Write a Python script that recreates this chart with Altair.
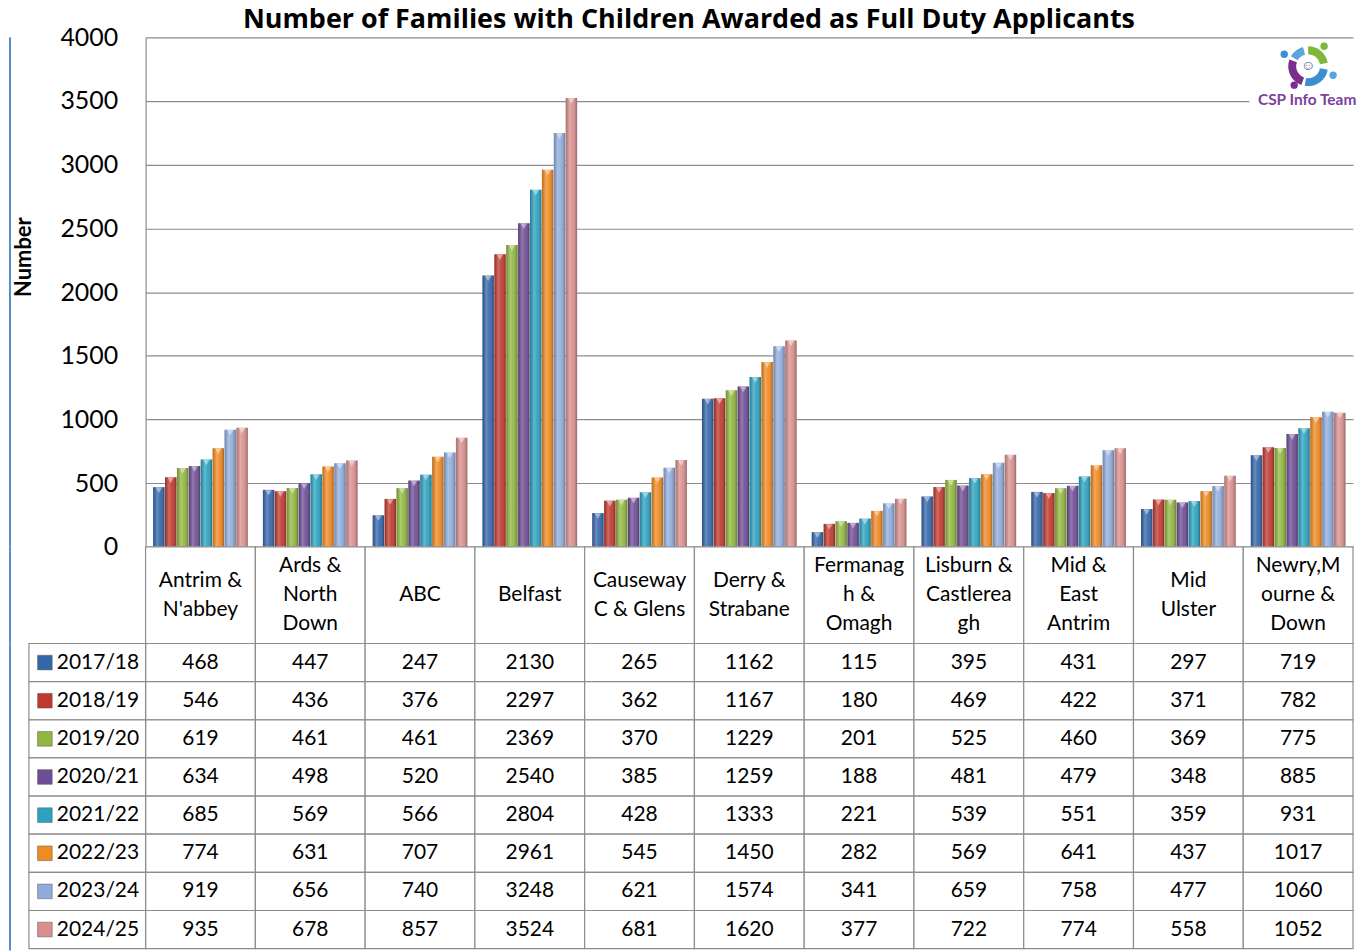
import altair as alt
import pandas as pd

# ---------------- data ----------------
categories = ["Antrim & N'abbey", "Ards & North Down", "ABC", "Belfast",
              "Causeway C & Glens", "Derry & Strabane", "Fermanagh & Omagh",
              "Lisburn & Castlereagh", "Mid & East Antrim", "Mid Ulster",
              "Newry,Mourne & Down"]
header_lines = [["Antrim &", "N'abbey"], ["Ards &", "North", "Down"], ["ABC"], ["Belfast"],
                ["Causeway", "C & Glens"], ["Derry &", "Strabane"], ["Fermanag", "h &", "Omagh"],
                ["Lisburn &", "Castlerea", "gh"], ["Mid &", "East", "Antrim"], ["Mid", "Ulster"],
                ["Newry,M", "ourne &", "Down"]]
series = ["2017/18", "2018/19", "2019/20", "2020/21",
          "2021/22", "2022/23", "2023/24", "2024/25"]

v2017_18 = [468, 447, 247, 2130, 265, 1162, 115, 395, 431, 297, 719]
v2018_19 = [546, 436, 376, 2297, 362, 1167, 180, 469, 422, 371, 782]
v2019_20 = [619, 461, 461, 2369, 370, 1229, 201, 525, 460, 369, 775]
v2020_21 = [634, 498, 520, 2540, 385, 1259, 188, 481, 479, 348, 885]
v2021_22 = [685, 569, 566, 2804, 428, 1333, 221, 539, 551, 359, 931]
v2022_23 = [774, 631, 707, 2961, 545, 1450, 282, 569, 641, 437, 1017]
v2023_24 = [919, 656, 740, 3248, 621, 1574, 341, 659, 758, 477, 1060]
v2024_25 = [935, 678, 857, 3524, 681, 1620, 377, 722, 774, 558, 1052]
values = [v2017_18, v2018_19, v2019_20, v2020_21, v2021_22, v2022_23, v2023_24, v2024_25]

colors = ["#3466AA", "#C0392F", "#92B73F", "#6F4D95", "#2CA2BF",
          "#F08A22", "#90ACDC", "#D88F8E"]

y_ticks = list(range(0, 4001, 500))

title_text = "Number of Families with Children Awarded as Full Duty Applicants"
y_title = "Number"
logo_text = "CSP Info Team"

# ---------------- tables ----------------
rows = []
for s, vals in zip(series, values):
    for c, v in zip(categories, vals):
        rows.append({"cat": c, "series": s, "value": v})
df = pd.DataFrame(rows)

hrows = []
for c, lines in zip(categories, header_lines):
    n = len(lines)
    for i, t in enumerate(lines):
        hrows.append({"cat": c, "line": t, "pos": i - (n - 1) / 2})
hdr = pd.DataFrame(hrows)
cats_df = pd.DataFrame({"cat": categories})
leg = pd.DataFrame({"series": series})
one = pd.DataFrame({"k": [0]})

FONT = "Lato"
GRID = "#8C8C8C"
BORDER = "#5B8BD0"
W = 1211
H_BARS = 511
H_HDR = 97
H_TAB = 306
LINE_H = 29
BORDER_X = -136
DEG = 3.14159265 / 180


def page_border(h):
    return alt.Chart(one).mark_rule(color=BORDER, strokeWidth=2).encode(
        x=alt.value(BORDER_X), y=alt.value(0), y2=alt.value(h))


# ---------------- bar panel ----------------
xb = alt.X("cat:N", sort=categories,
           scale=alt.Scale(domain=categories, paddingInner=0.1375, paddingOuter=0.06875),
           axis=None)
xo = alt.XOffset("series:N", scale=alt.Scale(domain=series, paddingInner=0.04))
yb = alt.Y("value:Q", scale=alt.Scale(domain=[0, 4000], nice=False),
           axis=alt.Axis(values=y_ticks, format="d", title=y_title, titleFont=FONT,
                         titleFontSize=22, titleFontWeight="bold", titleColor="black",
                         titlePadding=24, titleY=220,
                         labelFont=FONT, labelFontSize=25, labelColor="black",
                         labelPadding=28, ticks=False, grid=True, gridColor=GRID,
                         gridWidth=1.2, domainColor=GRID, domainWidth=1.2))

bars = alt.Chart(df).mark_bar().encode(
    x=xb, xOffset=xo, y=yb,
    color=alt.Color("series:N", scale=alt.Scale(domain=series, range=colors), legend=None),
)
shade = alt.Chart(df).mark_bar(
    fill=alt.Gradient(gradient="linear", x1=0, x2=1, y1=0, y2=0,
                      stops=[alt.GradientStop(color="rgba(0,0,0,0.22)", offset=0),
                             alt.GradientStop(color="rgba(255,255,255,0.25)", offset=0.35),
                             alt.GradientStop(color="rgba(255,255,255,0.08)", offset=0.6),
                             alt.GradientStop(color="rgba(0,0,0,0.30)", offset=1)])
).encode(x=xb, xOffset=xo, y=yb)
tops = alt.Chart(df).mark_point(shape="triangle-down", filled=True, size=40,
                                color="white", opacity=0.45, yOffset=3).encode(
    x=xb, xOffset=xo, y=yb)

# logo
logo_bg = alt.Chart(one).mark_rect(fill="white").encode(
    x=alt.value(1107), x2=alt.value(W), y=alt.value(4), y2=alt.value(74))
arc_specs = [("#7DB83A", 0, 80), ("#3B8FD0", 100, 190), ("#7A2E8E", 200, 290),
             ("#5BA4DE", 300, 345)]
logo_arcs = [alt.Chart(one).mark_arc(radius=20, radius2=12, theta=a * DEG,
                                     theta2=b * DEG, color=c).encode(
    x=alt.value(1166), y=alt.value(29)) for c, a, b in arc_specs]
dots = pd.DataFrame({"dx": [1182, 1142, 1152, 1191], "dy": [9, 17, 48, 38],
                     "c": ["#7DB83A", "#3B8FD0", "#7A2E8E", "#5BA4DE"]})
logo_dots = alt.Chart(dots).mark_circle(size=55, opacity=1).encode(
    x=alt.X("dx:Q", scale=None), y=alt.Y("dy:Q", scale=None),
    color=alt.Color("c:N", scale=None))
logo_person = alt.Chart(one).mark_text(text="\u263A", fontSize=14, color="#1F4E79").encode(
    x=alt.value(1166), y=alt.value(29))
logo_txt = alt.Chart(one).mark_text(text=logo_text, font=FONT, fontSize=15.5,
                                    fontWeight="bold", color="#7B3FA0").encode(
    x=alt.value(1165), y=alt.value(63))

bar_panel = alt.layer(bars, shade, tops, logo_bg, *logo_arcs, logo_dots,
                      logo_person, logo_txt, page_border(H_BARS)).properties(
    width=W, height=H_BARS)

# ---------------- header row ----------------
xt = alt.X("cat:N", sort=categories, scale=alt.Scale(domain=categories, padding=0), axis=None)
half = H_HDR / 2 / LINE_H
yh = alt.Y("pos:Q", scale=alt.Scale(domain=[-half, half], reverse=True, nice=False, zero=False),
           axis=None)
hdr_cells = alt.Chart(cats_df).mark_rect(fill="white", stroke=GRID, strokeWidth=1.2).encode(x=xt)
hdr_text = alt.Chart(hdr).mark_text(font=FONT, fontSize=21, baseline="middle",
                                    color="black").encode(x=xt, y=yh, text="line:N")
hdr_panel = alt.layer(hdr_cells, hdr_text, page_border(H_HDR)).properties(
    width=W, height=H_HDR)

# ---------------- data table ----------------
yt = alt.Y("series:N", sort=series, scale=alt.Scale(domain=series, padding=0), axis=None)
cells = alt.Chart(df).mark_rect(fill="white", stroke=GRID, strokeWidth=1.2).encode(x=xt, y=yt)
cell_text = alt.Chart(df).mark_text(font=FONT, fontSize=21, color="black").encode(
    x=xt, y=yt, text="value:Q")
leg_cells = alt.Chart(leg).mark_rect(fill="white", stroke=GRID, strokeWidth=1.2).encode(
    x=alt.value(-117), x2=alt.value(0), y=yt)
leg_keys = alt.Chart(leg).mark_square(size=215, opacity=1, stroke="#555", strokeWidth=0.5).encode(
    x=alt.value(-101), y=yt,
    color=alt.Color("series:N", scale=alt.Scale(domain=series, range=colors), legend=None))
leg_text = alt.Chart(leg).mark_text(font=FONT, fontSize=21, align="left", color="black").encode(
    x=alt.value(-89), y=yt, text="series:N")
tab_panel = alt.layer(cells, cell_text, leg_cells, leg_keys, leg_text,
                      page_border(H_TAB + 2)).properties(width=W, height=H_TAB)

chart = alt.vconcat(bar_panel, hdr_panel, tab_panel, spacing=0, bounds="flush").properties(
    title=alt.TitleParams(title_text, font="Open Sans", fontSize=27, fontWeight="bold",
                          color="black", anchor="middle", offset=-8.5, dx=6),
    padding={"left": 1, "top": -4, "right": 0, "bottom": 0},
).configure_view(stroke=None)

chart.save("out.html", embed_options={"renderer": "svg", "actions": False})
